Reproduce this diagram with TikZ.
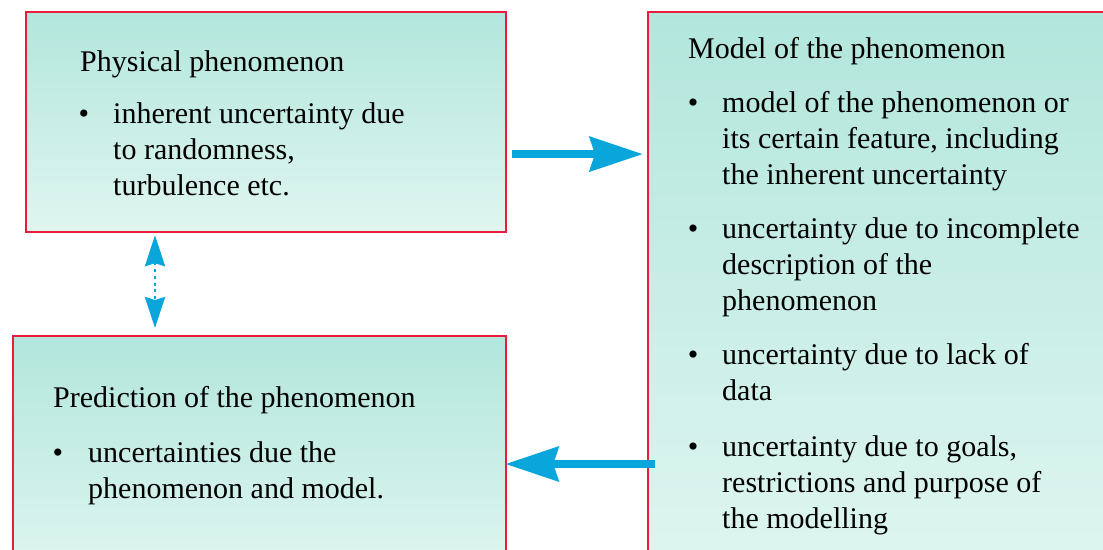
\documentclass[tikz,border=0pt]{standalone}
\usepackage{fontspec}
\setmainfont{Liberation Serif}
\usetikzlibrary{arrows.meta,calc}
\definecolor{boxtop}{HTML}{B2E6DC}
\definecolor{boxbot}{HTML}{DFF6F0}
\definecolor{boxred}{HTML}{EC1B3B}
\definecolor{arrblue}{HTML}{08A6DB}
\begin{document}
\begin{tikzpicture}[x=1pt,y=-1pt,
  box/.style={draw=boxred,line width=2.2pt,rectangle,top color=boxtop,bottom color=boxbot,anchor=north west,inner sep=0pt},
  txt/.style={anchor=base west,inner sep=0pt,align=left,font=\fontsize{30}{36}\selectfont},
  bul/.style={anchor=base,inner sep=0pt,font=\fontsize{30}{36}\selectfont},
  bigarrow/.style={draw=arrblue,line width=8.5pt,-{Stealth[length=53pt,width=34pt,inset=5pt]}},
  dotarrow/.style={draw=arrblue,line width=2.8pt,dash pattern=on 3pt off 3.7pt,{Stealth[length=31pt,width=20pt,inset=3pt]}-{Stealth[length=31pt,width=20pt,inset=3pt]}}]
\useasboundingbox (0,0) rectangle (1103,549);
\begin{scope}
\clip (0,0) rectangle (1103,549);
\node[box,minimum width=480pt,minimum height=220pt] (phys) at (25,11) {};
\node[box,minimum width=470pt,minimum height=564pt] (model) at (647,11) {};
\node[box,minimum width=493pt,minimum height=240pt] (pred) at (12,335) {};
\end{scope}

% physical phenomenon (multi-line nodes are placed by the baseline of their last line)
\node[txt] (physT) at (80,71) {Physical phenomenon};
\node[bul] (physB) at (84,123) {•};
\node[txt] (physI) at (113,195) {inherent uncertainty due\\to randomness,\\turbulence etc.};

% model
\node[txt] (modT) at (688,58) {Model of the phenomenon};
\node[bul] (modB1) at (693,112) {•};
\node[txt] (modI1) at (722,184) {model of the phenomenon or\\its certain feature, including\\the inherent uncertainty};
\node[bul] (modB2) at (693,238) {•};
\node[txt] (modI2) at (722,310) {uncertainty due to incomplete\\description of the\\phenomenon};
\node[bul] (modB3) at (693,364) {•};
\node[txt] (modI3) at (722,400) {uncertainty due to lack of\\data};
\node[bul] (modB4) at (693,456) {•};
\node[txt] (modI4) at (722,528) {uncertainty due to goals,\\restrictions and purpose of\\the modelling};

% prediction
\node[txt] (predT) at (53,407) {Prediction of the phenomenon};
\node[bul] (predB) at (58,462) {•};
\node[txt] (predI) at (88,498) {uncertainties due the\\phenomenon and model.};

% arrows
\draw[bigarrow] ($(phys.east)+(5,32)$) -- ($(phys.east -| model.west)+(-4,32)$);
\draw[bigarrow] ($(pred.north -| model.west)+(8,129)$) -- ($(pred.north east)+(-2,129)$);
\draw[dotarrow] ($(phys.south west)+(130,2)$) -- ($(pred.north west)+(143,-7)$);
\end{tikzpicture}
\end{document}
